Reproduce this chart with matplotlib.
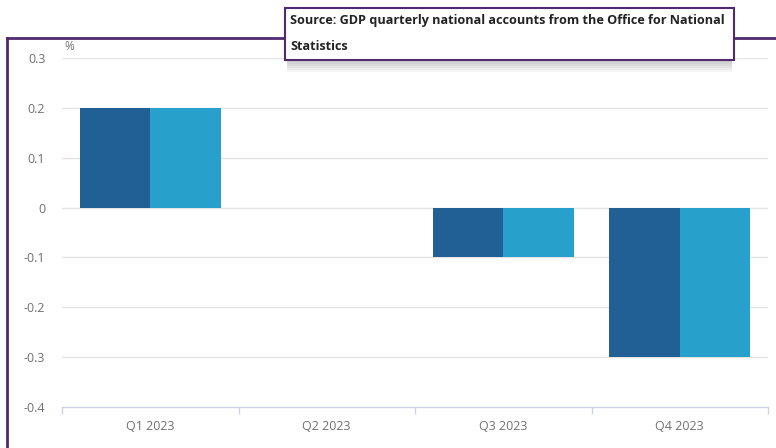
import matplotlib
matplotlib.use("Agg")
import matplotlib.pyplot as plt
from matplotlib.patches import Rectangle
from matplotlib.lines import Line2D
import numpy as np

plt.rcParams["font.family"] = ["Open Sans", "DejaVu Sans"]

# GDP quarterly growth, %
QUARTERS = ["Q1 2023", "Q2 2023", "Q3 2023", "Q4 2023"]
SERIES_A = [0.2, 0.0, -0.1, -0.3]
SERIES_B = [0.2, 0.0, -0.1, -0.3]
Y_TICKS = [-0.4, -0.3, -0.2, -0.1, 0, 0.1, 0.2, 0.3]
Y_LABELS = ["-0.4", "-0.3", "-0.2", "-0.1", "0", "0.1", "0.2", "0.3"]
SOURCE = "Source: GDP quarterly national accounts from the Office for National\nStatistics"

DARK = "#206095"
LIGHT = "#27a0cc"
GRID = "#e4e4e4"
AXIS = "#cfd4e2"
TICKTXT = "#707070"
PURPLE = "#4f2a6e"

W, H = 776, 448
fig = plt.figure(figsize=(W / 100, H / 100), dpi=100)
ax = fig.add_axes([62 / W, 1 - 407 / H, (768 - 62) / W, (407 - 58) / H])

x = np.arange(len(QUARTERS))
bw = 0.4
ax.bar(x - bw / 2, SERIES_A, bw, color=DARK, zorder=3)
ax.bar(x + bw / 2, SERIES_B, bw, color=LIGHT, zorder=3)

ax.set_xlim(-0.5, len(QUARTERS) - 0.5)
ax.set_ylim(-0.4, 0.3)
ax.set_yticks(Y_TICKS)
ax.set_yticklabels(Y_LABELS)
for y in Y_TICKS[1:]:
    ax.axhline(y, color=GRID, lw=1.0, zorder=1)

ax.set_xticks(x)
ax.set_xticklabels(QUARTERS)
ax.set_xticks(np.arange(-0.5, len(QUARTERS)), minor=True)
ax.tick_params(axis="x", which="major", length=0, pad=9, labelsize=9, labelcolor=TICKTXT)
ax.tick_params(axis="x", which="minor", length=5, color=AXIS, width=1)
ax.tick_params(axis="y", length=0, pad=12, labelsize=9, labelcolor=TICKTXT)
for s in ("top", "right", "left"):
    ax.spines[s].set_visible(False)
ax.spines["bottom"].set_color(AXIS)
ax.spines["bottom"].set_linewidth(1)

fig.text(64 / W, 1 - 47 / H, "%", fontsize=8.5, color=TICKTXT, ha="left", va="center")

# purple frame (left and top edges)
fig.add_artist(Line2D([7 / W, 7 / W], [0, 1 - 38 / H], transform=fig.transFigure,
                      color=PURPLE, lw=2))
fig.add_artist(Line2D([7 / W, 1], [1 - 38 / H, 1 - 38 / H], transform=fig.transFigure,
                      color=PURPLE, lw=2))

# tooltip box with soft shadow
bx0, by0, bx1, by1 = 285, 8, 734, 60
for i in range(6):
    fig.add_artist(Rectangle(((bx0 + 2) / W, 1 - (by1 + 2 + i * 2) / H),
                             (bx1 - bx0 - 4) / W, (by1 - by0) / H,
                             transform=fig.transFigure, facecolor="#000000",
                             edgecolor="none", alpha=0.035, zorder=8))
fig.add_artist(Rectangle((bx0 / W, 1 - by1 / H), (bx1 - bx0) / W, (by1 - by0) / H,
                         transform=fig.transFigure, facecolor="white",
                         edgecolor=PURPLE, lw=1.5, zorder=9))
fig.text(290 / W, 1 - 33.5 / H, SOURCE, fontsize=9.1, fontweight="bold",
         color="#222222", ha="left", va="center", linespacing=2.25, zorder=10)

fig.savefig("out.png", dpi=100)
